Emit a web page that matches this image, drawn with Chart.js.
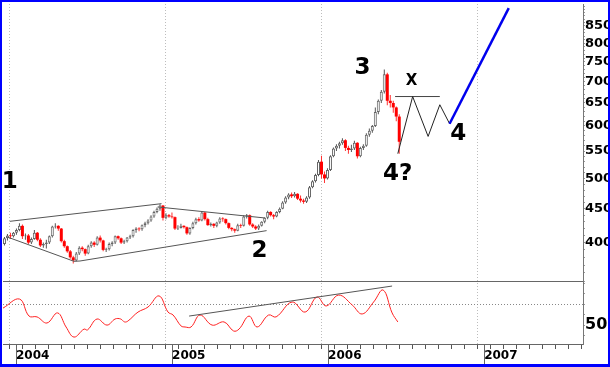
<!DOCTYPE html>
<html>
<head>
<meta charset="utf-8">
<script src="https://cdn.jsdelivr.net/npm/chart.js@4/dist/chart.umd.min.js"></script>
<style>
  html, body { margin: 0; padding: 0; background: #fff; }
  #frame { width: 610px; height: 367px; box-sizing: border-box; border: 2px solid #0000ff; border-bottom-width: 3px; }
  canvas { display: block; }
</style>
</head>
<body>
<div id="frame"><canvas id="goldChart" width="606" height="362"></canvas></div>
<script>
// weekly candles, first one is the week of 5 Dec 2003
const firstWeek = Date.UTC(2003, 11, 5);

const opens = [
  398,406,410,409,414,418,424,409,410,400, 405,414,404,396,398,400,409,423,424,420,
  402,395,388,380,376,385,393,391,385,395, 400,397,407,403,390,391,398,400,409,406,
  400,402,407,409,418,420,419,425,428,432, 438,445,450,455,436,440,438,437,420,421,
  424,422,413,421,428,434,432,444,434,425, 427,424,429,435,434,428,421,419,417,425,
  424,438,440,426,423,420,424,430,436,445, 440,438,445,450,460,468,473,470,474,466,
  463,461,468,485,495,506,530,507,500,515, 540,555,560,565,571,556,552,555,566,540,
  556,560,582,590,600,630,655,676,718,655, 650,640,620
];
const highs = [
  408,412,414,415,420,428,426,413,412,407, 418,415,406,400,404,410,424,428,425,421,
  404,396,390,382,387,395,395,392,397,402, 402,409,410,404,393,400,402,410,410,407,
  404,408,411,419,422,422,426,430,434,440, 447,452,457,456,443,442,444,438,425,427,
  425,423,422,430,436,437,446,445,436,429, 428,430,437,437,435,429,422,420,427,427,
  440,442,441,428,425,426,431,437,447,446, 442,446,452,462,470,475,476,477,475,471,
  466,470,487,497,508,533,541,512,518,542, 557,563,568,575,573,560,562,570,567,558,
  563,585,595,602,640,658,680,730,722,668, 655,642,625
];
const lows = [
  396,403,405,407,411,416,405,404,398,398, 404,402,394,393,392,398,407,420,417,400,
  393,386,378,372,375,383,388,382,384,393, 394,396,400,388,387,389,395,398,404,398,
  398,400,405,407,414,416,417,422,426,430, 436,443,447,432,434,436,435,418,418,420,
  420,411,411,419,426,430,431,432,424,423, 421,422,427,430,426,419,416,414,416,421,
  423,435,424,421,418,418,423,428,434,438, 434,437,443,449,458,465,467,468,464,460,
  458,459,466,483,493,504,500,492,498,513, 538,550,555,562,550,545,548,552,536,538,
  552,558,578,586,598,625,650,672,645,640, 628,610,545
];
const closes = [
  406,410,409,414,418,424,409,410,400,405, 414,404,396,398,400,409,423,424,420,402,
  395,388,380,376,385,393,391,385,395,400, 397,407,403,390,391,398,400,409,406,400,
  402,407,409,418,420,419,425,428,432,438, 445,450,455,436,440,438,437,420,421,424,
  422,413,421,428,434,432,444,434,425,427, 424,429,435,434,428,421,419,417,425,424,
  438,440,426,423,420,424,430,436,445,440, 438,445,450,460,468,473,470,474,466,463,
  461,468,485,495,506,530,507,500,515,540, 555,560,565,571,556,552,555,566,540,556,
  560,582,590,600,630,655,676,718,655,650, 640,620,568
];

const priceTicks = [400, 450, 500, 550, 600, 650, 700, 750, 800, 850];
const yearLabels = ['2004', '2005', '2006', '2007'];

// oscillator, x in months from Jan 2004
const oscMonths = [-1.0, 0.27, 1.0, 1.62, 2.38, 3.2, 3.85, 4.46, 5.23, 5.5, 6.23, 7.0, 7.62, 8.05, 8.35, 8.62,
  9.38, 10.15, 11.0, 11.69, 12.08, 12.69, 13.0, 13.46, 14.15, 15.08, 16.0, 16.73, 17.15, 17.92, 18.54,
  19.42, 20.0, 21.23, 22.23, 23.15, 23.85, 24.81, 25.85, 26.62, 27.5, 28.23, 28.92, 29.36];
const oscValues = [58.1, 62.4, 54.3, 53.9, 51.0, 55.8, 49.1, 44.3, 48.1, 47.7, 52.9, 50.0, 52.9, 52.9, 51.5, 52.0,
  56.2, 58.6, 63.9, 56.2, 54.8, 49.6, 49.1, 49.1, 54.8, 50.0, 51.5, 47.2, 48.1, 54.3, 49.1,
  54.8, 53.9, 61.0, 56.2, 63.4, 59.1, 64.3, 59.6, 55.3, 61.0, 66.7, 55.8, 51.5];
const oscLabels = [50];

// hand drawn lines [month, price]
const wedgeTop = [[-0.48, 430.7], [11.19, 458]];
const wedgeLow = [[-0.69, 408], [4.46, 374.8], [4.92, 375.2], [19.27, 417]];
const flagTop = [[10.89, 452.8], [19.12, 435.8]];
const xLevel = [[29.15, 664.7], [32.59, 664.7]];
const projection = [[29.36, 545], [30.5, 664.7], [31.69, 578.6], [32.59, 646], [33.34, 604.8]];
const wave5 = [[33.34, 604.8], [37.89, 903.8]];
const oscTrend = [[13.31, 54.3], [28.92, 68.6]];

const waveText = ['1', '2', '3', 'X', '4?', '4'];
const waveAt = [[-0.48, 498], [18.73, 392], [26.65, 740], [30.42, 705], [29.35, 511], [34.0, 588]];

const dayMs = 86400000;
const jan2004 = Date.UTC(2004, 0, 1);
const weekX = opens.map((_, i) => (firstWeek + i * 7 * dayMs - jan2004) / dayMs / 30.4375);
const isUp = i => closes[i] >= opens[i];

const wicks = weekX.map((x, i) => ({ x: x, y: [lows[i], highs[i]] }));
const bodies = weekX.map((x, i) => ({ x: x, y: [Math.min(opens[i], closes[i]), Math.max(opens[i], closes[i])] }));

const seg = (pts, color, width, axis) => ({
  type: 'line',
  data: pts.map(p => ({ x: p[0], y: p[1] })),
  borderColor: color,
  borderWidth: width,
  pointRadius: 0,
  tension: 0,
  yAxisID: axis || 'y',
  order: 0
});

const waveLabels = {
  id: 'waveLabels',
  afterDatasetsDraw(chart) {
    const { ctx, scales } = chart;
    ctx.save();
    ctx.fillStyle = '#000';
    ctx.textAlign = 'center';
    ctx.textBaseline = 'alphabetic';
    waveText.forEach((t, i) => {
      const size = t === 'X' ? 15 : 23;
      ctx.font = 'bold ' + size + 'px "DejaVu Sans"';
      ctx.fillText(t, scales.x.getPixelForValue(waveAt[i][0]), scales.y.getPixelForValue(waveAt[i][1]) + size * 0.36);
    });
    // year ticks run down through the label strip
    ctx.strokeStyle = '#666';
    ctx.lineWidth = 1;
    yearLabels.forEach((_, k) => {
      const px = Math.round(scales.x.getPixelForValue(k * 12)) + 0.5;
      ctx.beginPath();
      ctx.moveTo(px, scales.x.top);
      ctx.lineTo(px, chart.height);
      ctx.stroke();
    });
    ctx.restore();
  }
};

// keep the axes from reserving room for half labels at their ends
const noEndPadding = s => { s.paddingTop = 0; s.paddingBottom = 0; s.paddingLeft = 0; s.paddingRight = 0; };

Chart.defaults.font.family = '"DejaVu Sans"';

new Chart(document.getElementById('goldChart'), {
  type: 'bar',
  data: {
    datasets: [
      seg(wave5, '#0000ee', 2.5),
      seg(projection, '#222', 1),
      seg(xLevel, '#444', 1),
      seg(wedgeTop, '#555', 1),
      seg(wedgeLow, '#555', 1),
      seg(flagTop, '#555', 1),
      seg(oscTrend, '#555', 1, 'y2'),
      {
        type: 'line',
        data: oscMonths.map((m, i) => ({ x: m, y: oscValues[i] })),
        borderColor: '#ff2020',
        borderWidth: 1,
        pointRadius: 0,
        tension: 0.4,
        yAxisID: 'y2',
        order: 1
      },
      {
        data: bodies,
        yAxisID: 'y',
        grouped: false,
        barThickness: 3,
        inflateAmount: 0,
        borderSkipped: false,
        backgroundColor: c => isUp(c.dataIndex) ? '#fff' : '#ff0000',
        borderColor: c => isUp(c.dataIndex) ? '#666' : '#ff0000',
        borderWidth: c => isUp(c.dataIndex) ? 1 : 0,
        order: 2
      },
      {
        data: wicks,
        yAxisID: 'y',
        grouped: false,
        barThickness: 1,
        inflateAmount: 0,
        backgroundColor: c => isUp(c.dataIndex) ? '#555' : '#ff3030',
        borderWidth: 0,
        order: 3
      }
    ]
  },
  options: {
    responsive: false,
    animation: false,
    devicePixelRatio: 1,
    layout: { padding: { left: 1, top: 2, right: 0, bottom: 0 } },
    plugins: { legend: { display: false }, tooltip: { enabled: false } },
    scales: {
      x: {
        type: 'linear',
        min: -1,
        max: 43.6,
        offset: false,
        afterBuildTicks: s => {
          s.ticks = [];
          for (let m = -1; m <= 43; m++) s.ticks.push({ value: m });
        },
        afterFit: s => { s.height = 20; noEndPadding(s); },
        ticks: {
          autoSkip: false,
          maxRotation: 0,
          align: 'start',
          padding: 0,
          color: '#000',
          font: { size: 12, weight: 'bold' },
          callback: v => (v >= 0 && v % 12 === 0) ? yearLabels[v / 12] : ''
        },
        grid: {
          color: c => (c.tick && c.tick.value % 12 === 0) ? '#bdbdbd' : 'rgba(0,0,0,0)',
          tickColor: '#555',
          tickLength: 5
        },
        border: { color: '#666', dash: [1, 2] }
      },
      y: {
        type: 'logarithmic',
        position: 'right',
        stack: 'panels',
        stackWeight: 277,
        min: 350,
        max: 917,
        afterBuildTicks: s => {
          s.ticks = [];
          for (let v = 350; v <= 910; v += 10) s.ticks.push({ value: v });
        },
        afterFit: s => { s.width = 25; noEndPadding(s); },
        ticks: {
          autoSkip: false,
          padding: 0,
          color: '#000',
          font: { size: 13, weight: 'bold' },
          callback: v => priceTicks.includes(v) ? String(v) : ''
        },
        grid: {
          color: c => (c.tick && c.tick.value === 350) ? '#666' : 'rgba(0,0,0,0)',
          tickColor: '#999',
          tickLength: 2
        },
        border: { color: '#777' }
      },
      y2: {
        type: 'linear',
        position: 'right',
        stack: 'panels',
        stackWeight: 63,
        min: 41,
        max: 71,
        afterBuildTicks: s => {
          s.ticks = [45, 50, 55, 60, 65, 70].map(v => ({ value: v }));
        },
        afterFit: s => { s.width = 25; noEndPadding(s); },
        ticks: {
          autoSkip: false,
          padding: 0,
          color: '#000',
          font: { size: 16, weight: 'bold' },
          callback: v => oscLabels.includes(v) ? String(v) : ''
        },
        grid: {
          color: c => (c.tick && c.tick.value === 60) ? '#888' : 'rgba(0,0,0,0)',
          tickColor: '#999',
          tickLength: 2
        },
        border: { color: '#777', dash: [1, 2] }
      }
    }
  },
  plugins: [waveLabels]
});
</script>
</body>
</html>
